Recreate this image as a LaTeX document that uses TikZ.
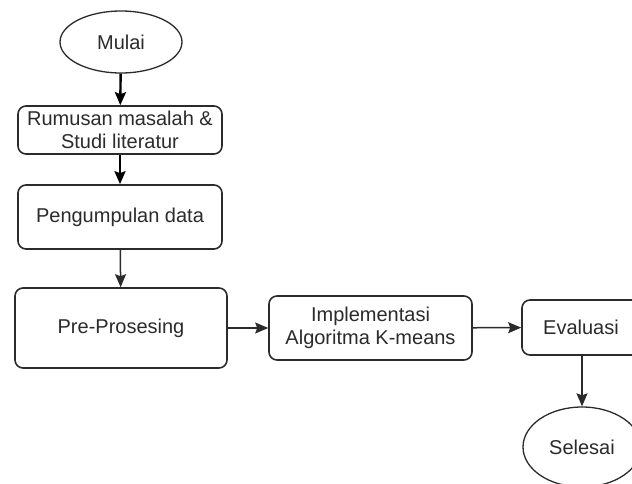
\documentclass[tikz,border=0pt]{standalone}
\usepackage{fontspec}
\setmainfont{Liberation Sans}
\usepackage{tikz, xcolor}
\usetikzlibrary{shapes.geometric,arrows.meta}
\definecolor{garis}{HTML}{2B2B2B}
\tikzset{
  kotak/.style={draw=garis, line width=1.6pt, rounded corners=8pt, inner sep=0pt, align=center, text=garis, font=\fontsize{20}{23}\selectfont},
  lonjong/.style={draw=garis, line width=1.3pt, ellipse, inner sep=0pt, text=garis, font=\fontsize{20}{23}\selectfont},
  panah/.style={-{Stealth[length=13pt,width=11pt,inset=2pt]}, line width=1.5pt, draw=garis},
  panahtebal/.style={panah, line width=2.4pt, draw=black}
}
\begin{document}
\begin{tikzpicture}[x=1pt,y=-1pt]
\clip (0,0) rectangle (632,484);
\fill[white] (0,0) rectangle (632,484);
\node[lonjong, minimum width=122pt, minimum height=62pt] (mulai) at (121,42) {Mulai};
\node[kotak, minimum width=204pt, minimum height=48pt] (rumusan) at (120,130) {Rumusan masalah \&\\Studi literatur};
\node[kotak, minimum width=204pt, minimum height=64pt] (kumpul) at (120,217) {Pengumpulan data};
\node[kotak, minimum width=212pt, minimum height=80pt] (prapros) at (121,328) {Pre-Prosesing};
\node[kotak, minimum width=203pt, minimum height=64pt] (kmeans) at (370.5,328) {Implementasi\\Algoritma K-means};
\node[kotak, minimum width=118pt, minimum height=55pt] (evaluasi) at (581,327.5) {Evaluasi};
\node[lonjong, minimum width=118pt, minimum height=80pt] (selesai) at (582,447) {Selesai};
\draw[panahtebal] (mulai) -- (rumusan);
\draw[panahtebal] (rumusan) -- (kumpul);
\draw[panah] (kumpul) -- (prapros);
\draw[panah] (prapros) -- (kmeans);
\draw[panah] (kmeans) -- (evaluasi);
\draw[panah] (evaluasi.south -| selesai.north) -- (selesai);
\end{tikzpicture}
\end{document}
